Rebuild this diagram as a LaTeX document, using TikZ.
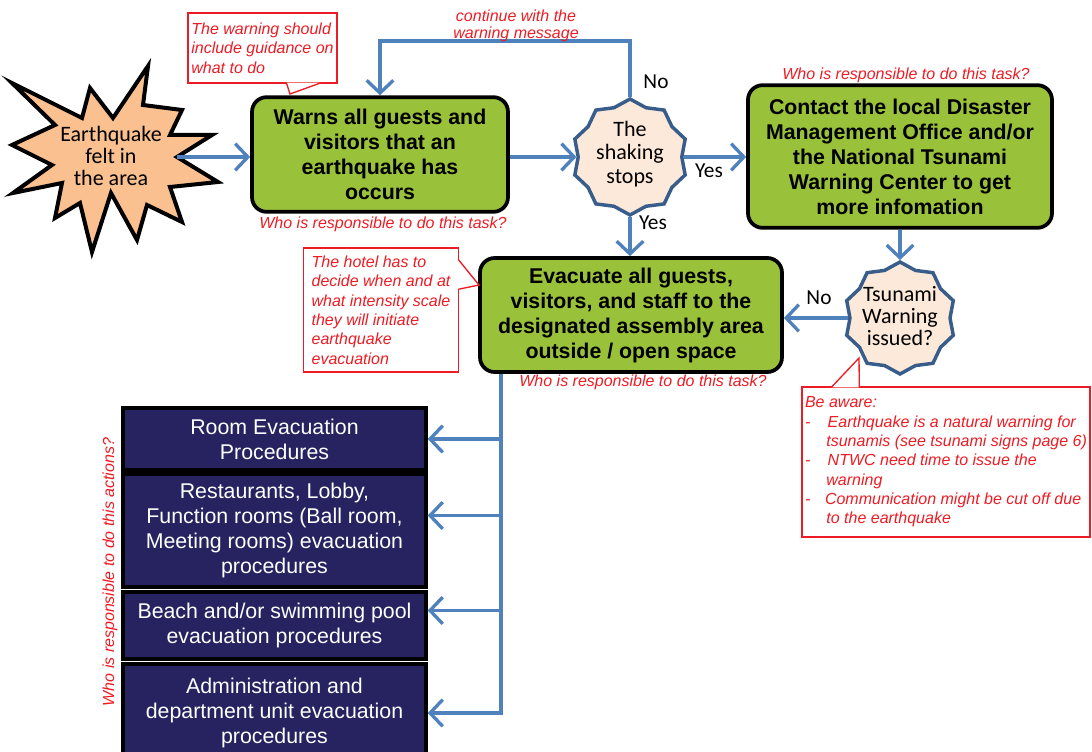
\documentclass[tikz,border=0pt]{standalone}
\usepackage{fontspec}
\setmainfont{Liberation Sans}
\newfontfamily\calibri{Carlito}
\usetikzlibrary{positioning, calc, shapes.geometric, arrows.meta}

\definecolor{boxgreen}{RGB}{153,193,58}
\definecolor{flowblue}{RGB}{79,129,189}
\definecolor{starblue}{RGB}{56,93,138}
\definecolor{starfill}{RGB}{253,233,217}
\definecolor{burstfill}{RGB}{250,192,144}
\definecolor{procnavy}{RGB}{38,35,96}
\definecolor{notered}{RGB}{237,28,36}

\begin{document}
\begin{tikzpicture}[x=0.75pt, y=-0.75pt, thick]
        % Define block styles
        \tikzstyle{block} = [rectangle, draw, line width=2.8pt, fill=boxgreen, rounded corners=11pt, align=center, inner sep=0pt, font=\fontsize{16}{18.75}\selectfont\bfseries]
        \tikzstyle{decision} = [star, star points=10, star point ratio=1.12, draw=starblue, line width=2.6pt, fill=starfill, inner sep=0pt, minimum size=87pt]
        \tikzstyle{decisiontext} = [align=center, inner sep=0pt, font=\calibri\fontsize{16.5}{17.5}\selectfont]
        \tikzstyle{burst} = [draw, line width=3pt, fill=burstfill]
        \tikzstyle{proc} = [rectangle, draw, line width=2.6pt, fill=procnavy, text=white, align=center, minimum width=227.25pt, inner sep=0pt, font=\fontsize{16}{18.75}\selectfont]
        \tikzstyle{note} = [rectangle, draw=notered, line width=1pt, fill=white, text=notered, align=left, inner sep=2pt, font=\fontsize{12}{14.5}\selectfont\itshape]
        \tikzstyle{notetail} = [draw=notered, line width=1pt, fill=white]
        \tikzstyle{ask} = [text=notered, inner sep=0pt, font=\fontsize{12}{12.5}\selectfont\itshape]
        \tikzstyle{answer} = [inner sep=0pt, font=\calibri\fontsize{16}{16}\selectfont]
        \tikzstyle{flow} = [draw=flowblue, line width=2.5pt, -{Straight Barb[length=9.5pt, width=20pt]}]

        \useasboundingbox (0,0) rectangle (1092,752);

        % Place nodes
        \filldraw[burst] (148,66) -- (143,105) -- (182,110) -- (170,135) -- (212,135) -- (177,157)
            -- (218,182) -- (170,187) -- (182,222) -- (147,205) -- (137,240) -- (111,193)
            -- (92,252) -- (80,203) -- (55,218) -- (62,183) -- (13,193) -- (52,165)
            -- (12,145) -- (55,125) -- (12,83) -- (82,118) -- (90,88) -- (113,118) -- cycle;
        \node [decisiontext, font=\calibri\fontsize{16.5}{16.5}\selectfont] (quake) at (111,156) {Earthquake\\felt in\\the area};
        \coordinate (quakeout) at (177,157);

        \node [block, minimum width=192pt, minimum height=86pt] (warn) at (380,154.5) {Warns all guests and\\visitors that an\\earthquake has\\occurs};
        \node [decision] (shaking) at (630,157) {};
        \node [decisiontext] (shakingtext) at (630,154) {The\\shaking\\stops};
        \node [block, minimum width=228pt, minimum height=107pt] (contact) at (900,156.5) {Contact the local Disaster\\Management Office and/or\\the National Tsunami\\Warning Center to get\\more infomation};
        \node [block, minimum width=226.5pt, minimum height=85.5pt] (evac) at (631,315) {Evacuate all guests,\\visitors, and staff to the\\designated assembly area\\outside / open space};
        \node [decision, minimum size=84pt] (tsunami) at (900,318) {};
        \node [decisiontext, font=\calibri\fontsize{16.5}{16.8}\selectfont] (tsunamitext) at (900,316) {Tsunami\\Warning\\issued?};

        \node [proc, minimum height=46.5pt] (room) at (274.5,439) {Room Evacuation\\Procedures};
        \node [proc, minimum height=84.75pt] (dining) at (274.5,530.5) {Restaurants, Lobby,\\Function rooms (Ball room,\\Meeting rooms) evacuation\\procedures};
        \node [proc, minimum height=50.25pt] (beach) at (274.5,625.5) {Beach and/or swimming pool\\evacuation procedures};
        \node [proc, minimum height=73.5pt] (admin) at (274.5,713) {Administration and\\department unit evacuation\\procedures};

        % Callouts
        \node [note, minimum width=111.75pt, minimum height=52.5pt] (guide) at (262.5,48) {The warning should\\include guidance on\\what to do};
        \coordinate (guidetip) at (290,94);
        \draw [notetail] ($(guide.south west)+(99,-1)$) -- (guidetip) -- ($(guide.south west)+(134,-1)$);

        \node [note, minimum width=116.25pt, minimum height=93pt] (decide) at (381,310) {The hotel has to\\decide when and at\\what intensity scale\\they will initiate\\earthquake\\evacuation};
        \coordinate (decidetip) at (479,285);
        \draw [notetail] ($(decide.north east)+(-1,12)$) -- (decidetip) -- ($(decide.north east)+(-1,42)$);

        \node [note, minimum width=216pt, minimum height=112.5pt] (aware) at (946,462) {Be aware:\\
            \makebox[17pt][l]{-}Earthquake is a natural warning for\\
            \hspace*{16pt}tsunamis (see tsunami signs page 6)\\
            \makebox[17pt][l]{-}NTWC need time to issue the\\
            \hspace*{16pt}warning\\
            \makebox[15pt][l]{-}Communication might be cut off due\\
            \hspace*{16pt}to the earthquake};
        \coordinate (awaretip) at (859,358);
        \draw [notetail] ($(aware.north west)+(30,1)$) -- (awaretip) -- ($(aware.north west)+(58,1)$);

        % Draw connections as arrows
        \draw [flow] (quakeout) -- (quakeout -| warn.west);
        \draw [flow] (warn.east |- shaking.west) -- (shaking.west);
        \draw [flow] (shaking.north) -- ++(0,-56) -| (warn.north);
        \draw [flow] (shaking.east) -- (shaking.east -| contact.west);
        \draw [flow] (shaking.south) -- (shaking.south |- evac.north);
        \draw [flow] (contact.south -| tsunami.north) -- (tsunami.north);
        \draw [flow] (tsunami.west) -- (tsunami.west -| evac.east);
        \coordinate (trunk) at ($(evac.south west)+(23,0)$);
        \draw [flow] (trunk) |- (room.east);
        \draw [flow] (trunk) |- ($(dining.east)+(0,-15)$);
        \draw [flow] (trunk) |- ($(beach.east)+(0,-15)$);
        \draw [flow] (trunk) |- (admin.east);

        % Add text on the arrows
        \node [ask, align=center] (loopnote) at (516,26) {continue with the\\warning message};
        \node [answer] (noloop) at (656,82) {No};
        \node [answer] (yesright) at (709,171) {Yes};
        \node [answer] (yesdown) at (653,223) {Yes};
        \node [answer] (nowarning) at (819,298) {No};
        \node [ask] (askwarn) at (383,224) {Who is responsible to do this task?};
        \node [ask] (askcontact) at (906,75) {Who is responsible to do this task?};
        \node [ask] (askevac) at (643,382) {Who is responsible to do this task?};
        \node [ask, rotate=90] (askproc) at (110,572) {Who is responsible to do this actions?};

    \end{tikzpicture}
\end{document}
